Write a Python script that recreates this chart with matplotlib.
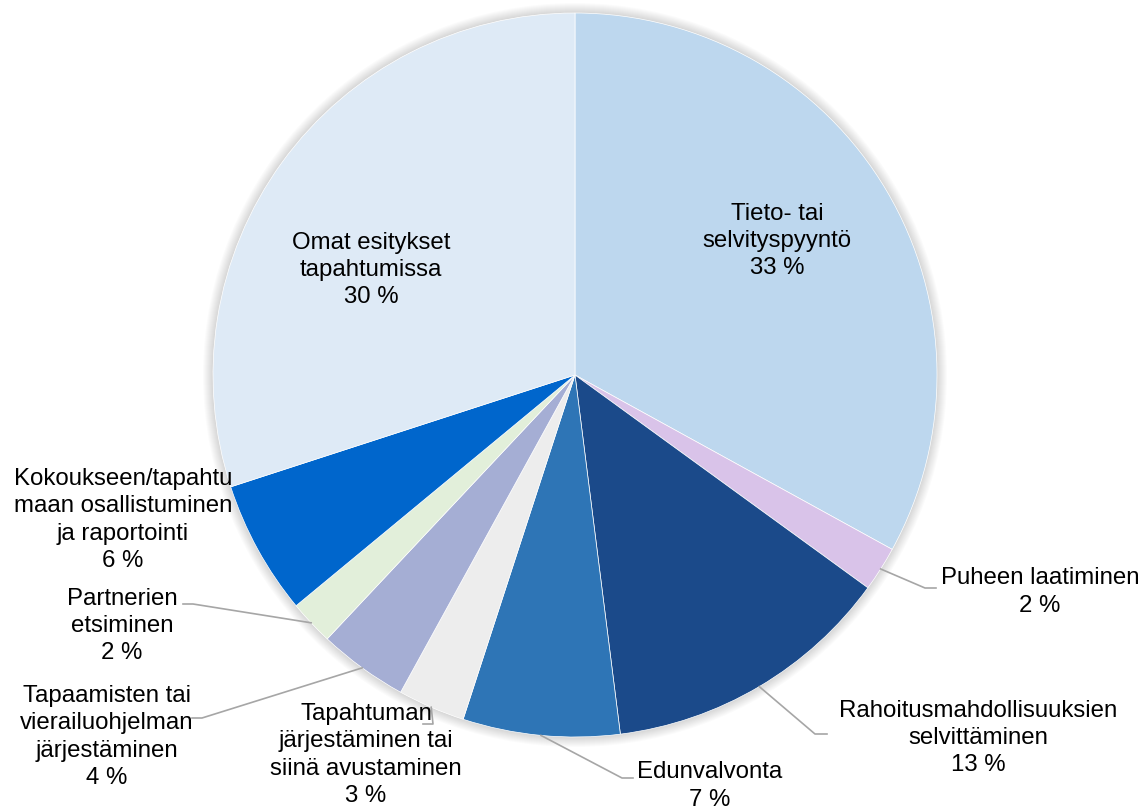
import numpy as np
import matplotlib.pyplot as plt
from matplotlib.patches import Circle

plt.rcParams['font.family'] = ['Liberation Sans', 'DejaVu Sans']

# --- data ---
labels = [
    'Tieto- tai\nselvityspyyntö',
    'Puheen laatiminen',
    'Rahoitusmahdollisuuksien\nselvittäminen',
    'Edunvalvonta',
    'Tapahtuman\njärjestäminen tai\nsiinä avustaminen',
    'Tapaamisten tai\nvierailuohjelman\njärjestäminen',
    'Partnerien\netsiminen',
    'Kokoukseen/tapahtu\nmaan osallistuminen\nja raportointi',
    'Omat esitykset\ntapahtumissa',
]
values = [33, 2, 13, 7, 3, 4, 2, 6, 30]
colors = ['#BDD7EE', '#D9C3E9', '#1B4A8A', '#2E75B6', '#EDEDED',
          '#A5AED4', '#E2EFDA', '#0066CC', '#DEEAF6']

# label positions in pixels (x, y from top), and leader bend points (None = inside)
W, H = 1143, 807
label_pos = [(777, 241), (1040, 592), (978, 738), (710, 786), (366, 755),
             (107, 737), (122, 626), (123, 520), (371, 270)]
leader_bend = [None, (925, 588), (815, 734), (622, 778), (433, 724),
               (202, 718), (193, 604), None, None]
leader_end = [None, (936, 588), (827, 734), (633, 778), (423, 724),
              (192, 718), (183, 604), None, None]

cx, cy, r = 575, H - 375, 362

fig = plt.figure(figsize=(W / 100, H / 100), dpi=100)
ax = fig.add_axes([0, 0, 1, 1])

# soft shadow behind the pie
for k in range(1, 11):
    ax.add_patch(Circle((cx, cy), r + k, color='#000000', alpha=0.014, lw=0, zorder=0))

wedges, _ = ax.pie(values, colors=colors, startangle=90, counterclock=False,
                   radius=r, center=(cx, cy), frame=True,
                   wedgeprops=dict(edgecolor='white', linewidth=0.5))
ax.set_xlim(0, W)
ax.set_ylim(0, H)
ax.set_aspect('equal')
ax.axis('off')

for i, w in enumerate(wedges):
    txt = f'{labels[i]}\n{values[i]} %'
    lx, ly = label_pos[i]
    ax.text(lx, H - ly, txt, ha='center', va='center', fontsize=17.3,
            linespacing=1.3, color='black', zorder=5)
    if leader_bend[i] is not None:
        mid = np.deg2rad((w.theta1 + w.theta2) / 2)
        sx, sy = cx + r * np.cos(mid), cy + r * np.sin(mid)
        bx, by = leader_bend[i]
        ex, ey = leader_end[i]
        ax.plot([sx, bx, ex], [sy, H - by, H - ey], color='#A6A6A6', lw=1.2, zorder=4)

fig.savefig('out.png', dpi=100, facecolor='white')
